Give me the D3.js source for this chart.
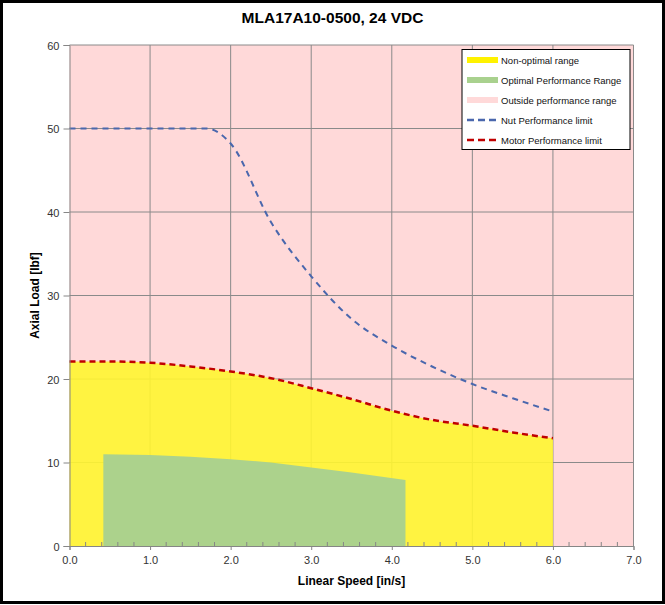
<!DOCTYPE html>
<html>
<head>
<meta charset="utf-8">
<script src="https://cdn.jsdelivr.net/npm/d3@7"></script>
<style>
  body { margin: 0; background: #fff; }
  text { font-family: "Liberation Sans", Arial, sans-serif; }
</style>
</head>
<body>
<svg width="665" height="605"></svg>
<script>
// data
let speed = [0, 0.5, 1.0, 1.5, 2.0, 2.5, 3.0, 3.5, 4.0, 4.5, 5.0, 5.5, 6.0];
let motorLimit = [22.1, 22.1, 21.95, 21.5, 20.9, 20.1, 18.9, 17.6, 16.2, 15.1, 14.4, 13.6, 12.9];

let nutSpeed = [0, 0.5, 1.0, 1.5, 1.7, 2.0, 2.5, 3.0, 3.5, 4.0, 4.5, 5.0, 5.5, 6.0];
let nutLimit = [50, 50, 50, 50, 50, 48.2, 38.8, 32.3, 27.2, 24.0, 21.5, 19.4, 17.7, 16.1];

let optSpeed = [0.42, 1.0, 1.5, 2.0, 2.5, 3.0, 3.5, 4.17];
let optLoad = [11.0, 10.9, 10.7, 10.4, 10.0, 9.4, 8.8, 7.9];

let xTicks = [0, 1, 2, 3, 4, 5, 6, 7];
let yTicks = [0, 10, 20, 30, 40, 50, 60];

let legendItems = [
    {label: 'Non-optimal range', type: 'area', color: '#fff200'},
    {label: 'Optimal Performance Range', type: 'area', color: '#a9d18e'},
    {label: 'Outside performance range', type: 'area', color: '#ffd9d9'},
    {label: 'Nut Performance limit', type: 'line', color: '#4a67ad'},
    {label: 'Motor Performance limit', type: 'line', color: '#c00000'}
];

let svg = d3.select('svg');
let width = +svg.attr('width');
let height = +svg.attr('height');
let margin = {top: 45, right: 31.5, bottom: 59, left: 69.5};
let innerWidth = width - margin.left - margin.right;
let innerHeight = height - margin.top - margin.bottom;

// outer border, drawn as a path
svg.append('path')
    .attr('d', `M1.5,1.5H${width - 1.5}V${height - 2.5}H1.5Z`)
    .attr('fill', 'none')
    .attr('stroke', '#000')
    .attr('stroke-width', 3);

let xScale = d3.scaleLinear().domain([0, 7]).range([0, innerWidth]);
let yScale = d3.scaleLinear().domain([0, 60]).range([innerHeight, 0]);

let g = svg.append('g')
    .attr('transform', `translate(${margin.left},${margin.top})`);

// plot background (outside range)
g.append('rect')
    .attr('width', innerWidth).attr('height', innerHeight)
    .attr('fill', '#ffd9d9');

// gridlines
g.selectAll('.vgrid').data(xTicks.slice(1)).enter().append('line')
    .attr('x1', d => xScale(d)).attr('x2', d => xScale(d))
    .attr('y1', 0).attr('y2', innerHeight)
    .attr('stroke', '#8a8a8a').attr('stroke-width', 1);
g.selectAll('.hgrid').data(yTicks.slice(1)).enter().append('line')
    .attr('x1', 0).attr('x2', innerWidth)
    .attr('y1', d => yScale(d)).attr('y2', d => yScale(d))
    .attr('stroke', '#8a8a8a').attr('stroke-width', 1);

// yellow area under motor limit
let motorData = speed.map((s, i) => ({x: s, y: motorLimit[i]}));
let area = d3.area()
    .x(d => xScale(d.x))
    .y0(innerHeight)
    .y1(d => yScale(d.y))
    .curve(d3.curveMonotoneX);
g.append('path')
    .datum(motorData)
    .attr('d', area)
    .attr('fill', '#fff530')
    .attr('fill-opacity', 0.9);

// green optimal range
let optData = optSpeed.map((s, i) => ({x: s, y: optLoad[i]}));
g.append('path')
    .datum(optData)
    .attr('d', d3.area().x(d => xScale(d.x)).y0(innerHeight).y1(d => yScale(d.y)))
    .attr('fill', '#a9d18e')
    .attr('fill-opacity', 0.97);

// limit lines
let line = d3.line()
    .x(d => xScale(d.x))
    .y(d => yScale(d.y))
    .curve(d3.curveMonotoneX);

g.append('path')
    .datum(nutSpeed.map((s, i) => ({x: s, y: nutLimit[i]})))
    .attr('d', line)
    .attr('fill', 'none')
    .attr('stroke', '#4a67ad')
    .attr('stroke-width', 2)
    .attr('stroke-dasharray', '6,5');

g.append('path')
    .datum(motorData)
    .attr('d', line)
    .attr('fill', 'none')
    .attr('stroke', '#c00000')
    .attr('stroke-width', 2.5)
    .attr('stroke-dasharray', '6,4');

// axes
let xAxis = g.append('g')
    .attr('transform', `translate(0,${innerHeight})`)
    .call(d3.axisBottom(xScale).tickValues(xTicks).tickFormat(d3.format('.1f')).tickSize(4).tickPadding(6));
let xMinor = d3.range(0, 7.01, 0.2).filter(v => Math.abs(v - Math.round(v)) > 0.01);
xAxis.selectAll('.minor').data(xMinor).enter().append('line')
    .attr('x1', d => xScale(d)).attr('x2', d => xScale(d))
    .attr('y1', 0).attr('y2', -4)
    .attr('stroke', '#868686');

let yAxis = g.append('g')
    .call(d3.axisLeft(yScale).tickValues(yTicks).tickSize(6).tickPadding(4));

[xAxis, yAxis].forEach(ax => {
    ax.attr('font-family', '"Liberation Sans", Arial, sans-serif')
        .attr('font-size', 11);
    ax.select('.domain').attr('stroke', '#868686');
    ax.selectAll('.tick line').attr('stroke', '#868686');
    ax.selectAll('.tick text').attr('fill', '#333');
});
// plain baselines instead of em offsets
xAxis.selectAll('.tick text').attr('dy', null).attr('y', 18);
yAxis.selectAll('.tick text').attr('dy', null).attr('y', 4);

// titles
svg.append('text')
    .attr('x', width / 2).attr('y', 23)
    .attr('text-anchor', 'middle')
    .attr('font-size', 15.5)
    .attr('font-weight', 'bold')
    .text('MLA17A10-0500, 24 VDC');

svg.append('text')
    .attr('x', margin.left + innerWidth / 2).attr('y', 585)
    .attr('text-anchor', 'middle')
    .attr('font-size', 12)
    .attr('font-weight', 'bold')
    .text('Linear Speed [in/s]');

svg.append('text')
    .attr('transform', `translate(39,${margin.top + innerHeight / 2}) rotate(-90)`)
    .attr('text-anchor', 'middle')
    .attr('font-size', 12)
    .attr('font-weight', 'bold')
    .text('Axial Load [lbf]');

// legend
let legend = svg.append('g').attr('transform', 'translate(462,49.5)');
legend.append('rect')
    .attr('width', 168).attr('height', 100)
    .attr('fill', '#fff')
    .attr('stroke', '#000');
let rows = legend.selectAll('.row').data(legendItems).enter().append('g')
    .attr('transform', (d, i) => `translate(0,${10.5 + i * 20})`);
rows.filter(d => d.type === 'area').append('rect')
    .attr('x', 5).attr('y', -3)
    .attr('width', 31).attr('height', 6)
    .attr('fill', d => d.color);
rows.filter(d => d.type === 'line').append('line')
    .attr('x1', 5).attr('x2', 37)
    .attr('stroke', d => d.color)
    .attr('stroke-width', 2.5)
    .attr('stroke-dasharray', '7,4');
rows.append('text')
    .attr('x', 39).attr('y', 3.5)
    .attr('font-size', 9.5)
    .attr('fill', '#111')
    .text(d => d.label);
</script>
</body>
</html>
